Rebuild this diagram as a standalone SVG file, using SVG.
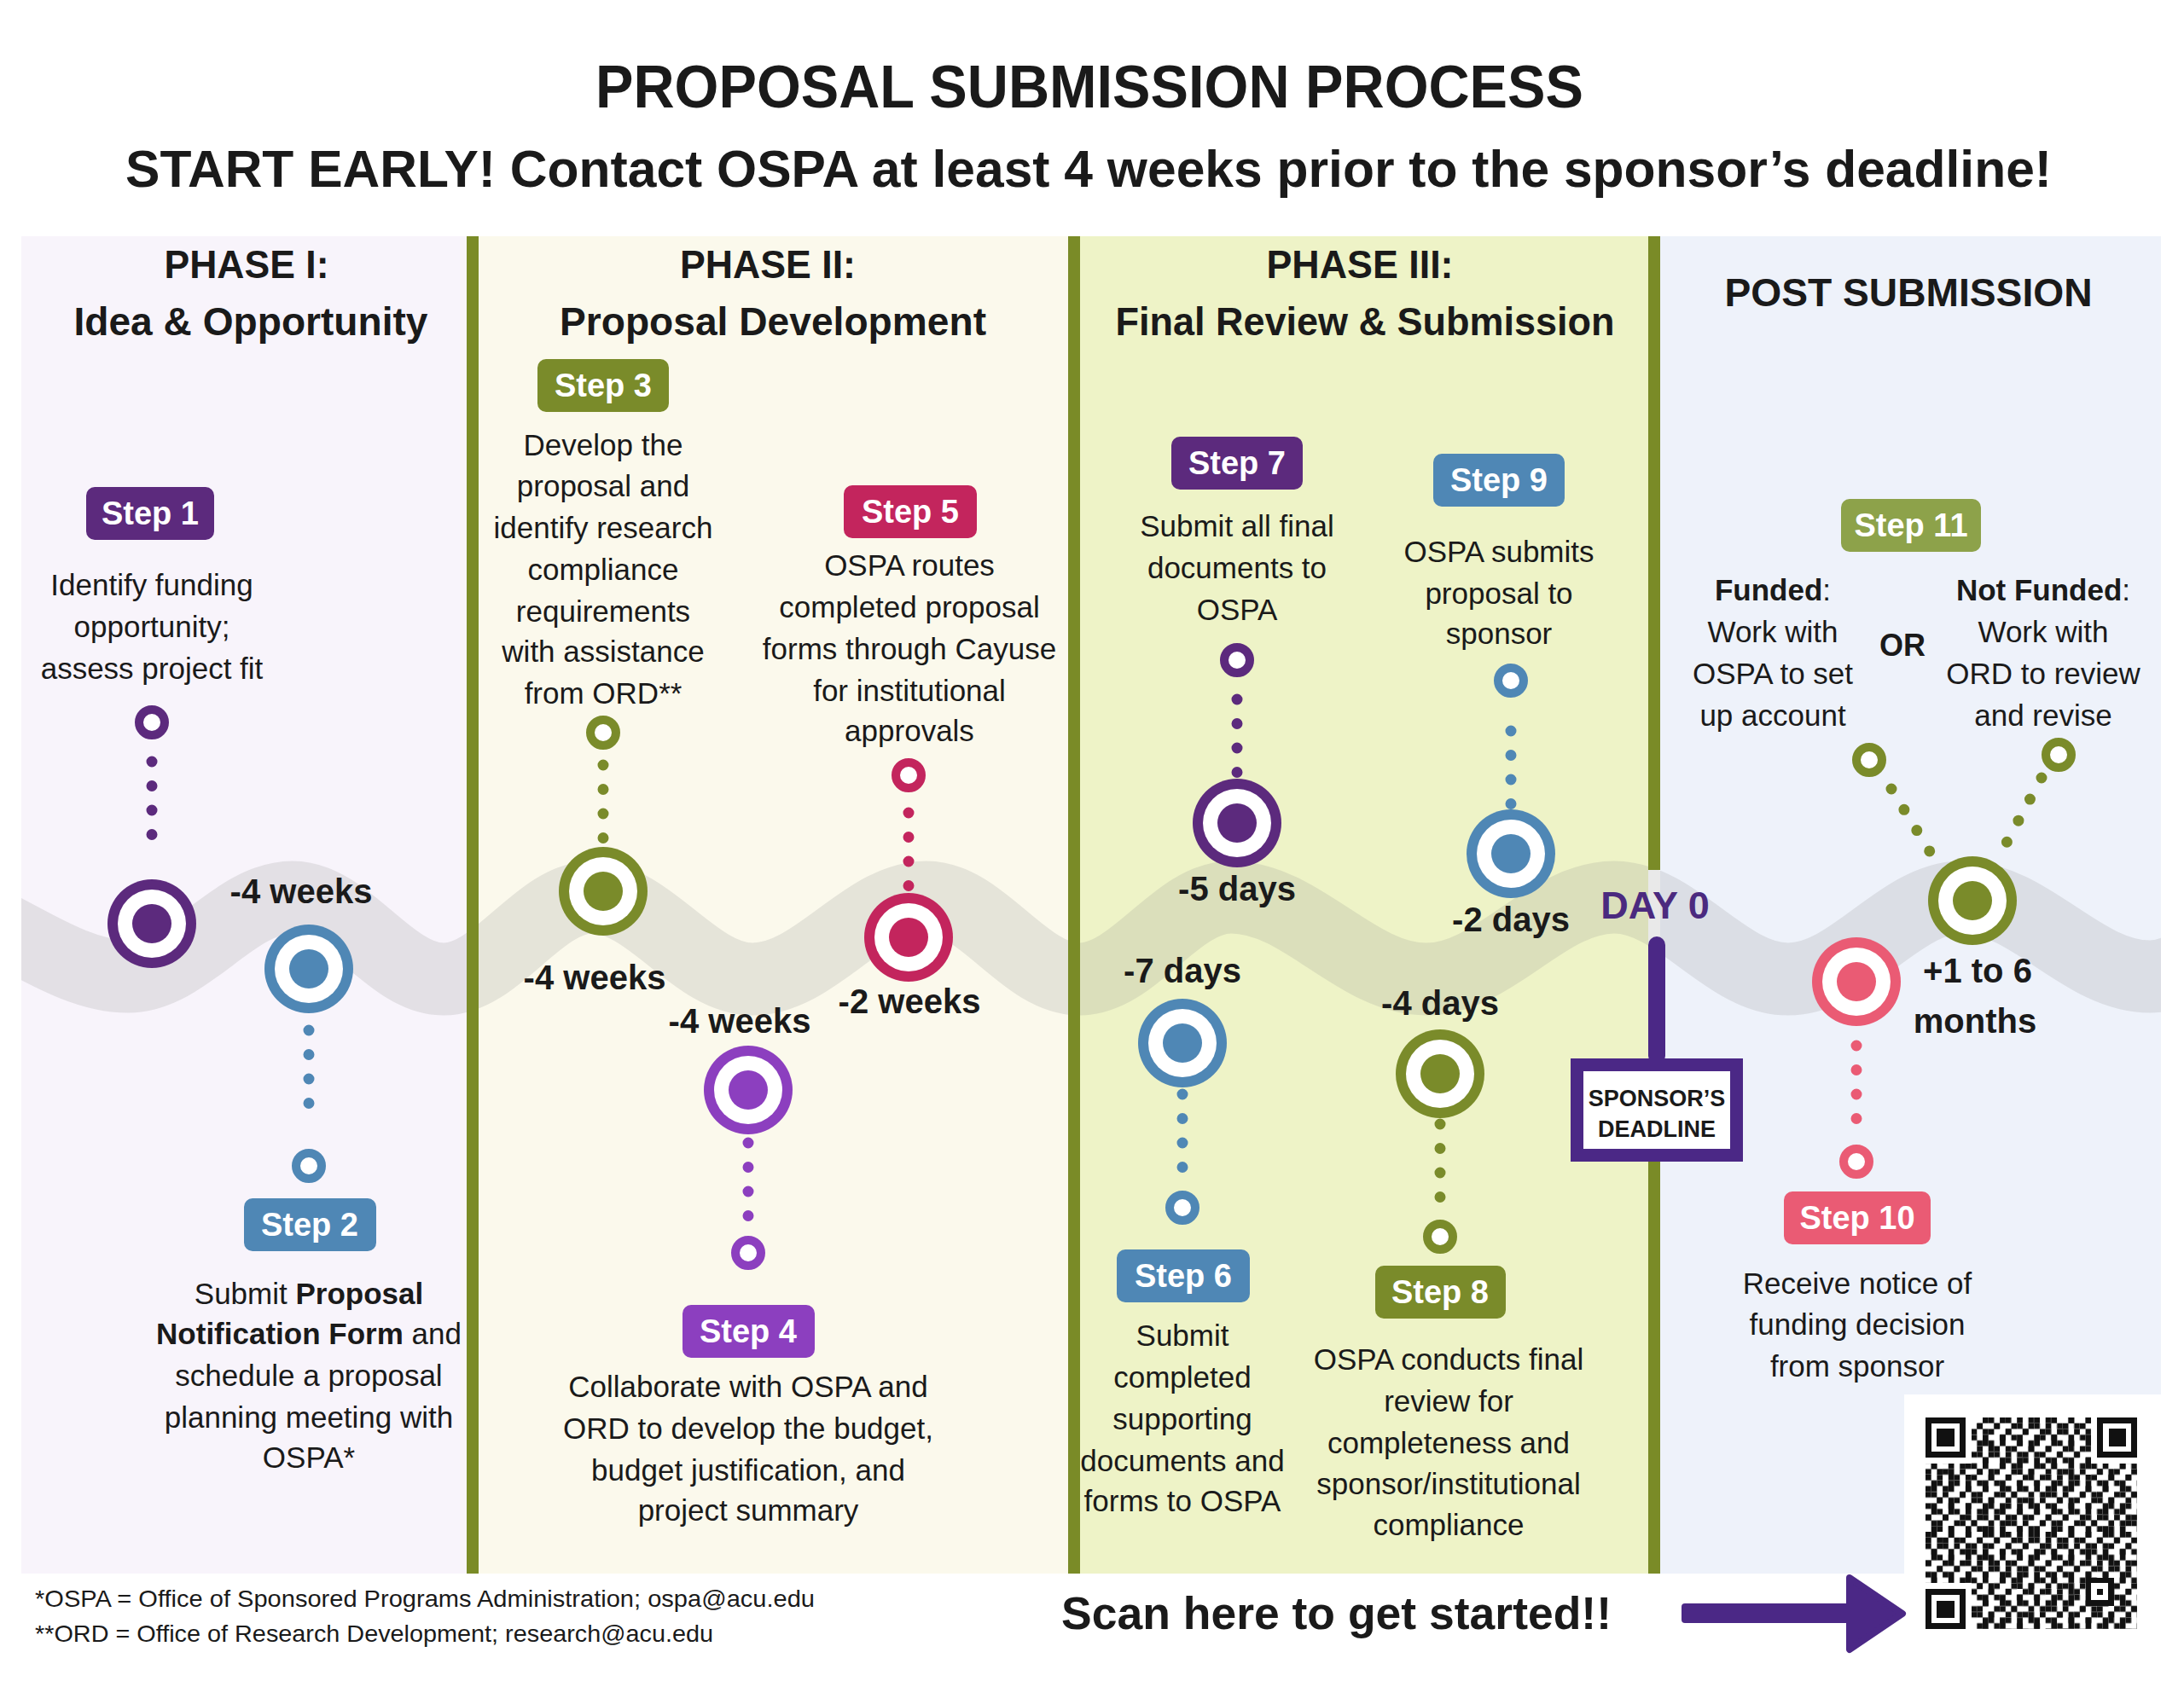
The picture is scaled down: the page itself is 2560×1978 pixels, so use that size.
<svg xmlns="http://www.w3.org/2000/svg" xmlns:xlink="http://www.w3.org/1999/xlink" width="2560" height="1978" viewBox="0 0 2560 1978">
<style>
text{font-family:"Liberation Sans",Arial,sans-serif;fill:#1a1a1a}
.title{font-weight:bold;text-anchor:middle}
.head{font-size:46px;font-weight:bold;text-anchor:middle}
.desc{font-size:35px;text-anchor:middle}
.b{font-weight:bold}
.bt{font-size:38px;font-weight:bold;fill:#fff;text-anchor:middle}
.time{font-size:40px;font-weight:bold;text-anchor:middle}
.foot{font-size:28px}
.dot{fill:none;stroke-width:13;stroke-linecap:round;stroke-dasharray:0 28.5}
</style>
<defs>
<g id="tgt"><circle r="52"/><circle r="40" fill="#fff"/><circle r="23"/></g>
<circle id="ring" r="15" fill="#fff" stroke-width="10"/>
<clipPath id="pclip"><rect x="25" y="277" width="2508" height="1568"/></clipPath>
<pattern id="qa" patternUnits="userSpaceOnUse" x="2257" y="1662" width="46.9" height="33.5"><path d="M0 0h6.7v6.7h-6.7zM26.8 0h6.7v6.7h-6.7zM13.4 6.7h6.7v6.7h-6.7zM33.5 6.7h6.7v6.7h-6.7zM0 13.4h6.7v6.7h-6.7zM20.1 13.4h6.7v6.7h-6.7zM6.7 20.1h6.7v6.7h-6.7zM40.2 20.1h6.7v6.7h-6.7zM13.4 26.8h6.7v6.7h-6.7zM26.8 26.8h6.7v6.7h-6.7z" fill="#111"/></pattern>
<pattern id="qb" patternUnits="userSpaceOnUse" x="2257" y="1662" width="20.1" height="26.8"><path d="M6.7 0h6.7v6.7h-6.7zM0 6.7h6.7v6.7h-6.7zM13.4 13.4h6.7v6.7h-6.7zM6.7 20.1h6.7v6.7h-6.7z" fill="#111"/></pattern>
</defs>
<rect width="2560" height="1978" fill="#fff"/>

<g id="panels">
<rect x="25" y="277" width="522" height="1568" fill="#f8f4fb"/>
<rect x="561" y="277" width="691" height="1568" fill="#fbf9ec"/>
<rect x="1266" y="277" width="666" height="1568" fill="#eef3c7"/>
<path d="M1946 277H2533V1635H2232V1845H1946Z" fill="#eef2fa"/>
</g>

<g id="wave" clip-path="url(#pclip)">
<path d="M-110 1052C-23 1052 63 1145 150 1145C220 1145 273 1052 343 1052C407 1052 456 1148 520 1148C583 1148 631 1052 694 1052C762 1052 814 1148 882 1148C956 1148 1012 1052 1086 1052C1151 1052 1200 1148 1265 1148C1330 1148 1378 1052 1443 1052C1526 1052 1589 1148 1672 1148C1752 1148 1812 1052 1892 1052C1966 1052 2022 1148 2096 1148C2170 1148 2226 1052 2300 1052C2380 1052 2440 1145 2520 1145C2586 1145 2634 1052 2700 1052" fill="none" stroke="#8a8a8a" stroke-opacity="0.19" stroke-width="85"/>
</g>

<g id="bars" fill="#7a8b27">
<rect x="547" y="277" width="14" height="1568"/>
<rect x="1252" y="277" width="14" height="1568"/>
<rect x="1932" y="277" width="14" height="743"/>
<rect x="1932" y="1362" width="14" height="483"/>
</g>

<g id="titles">
<text class="title" x="1277" y="126" font-size="70" textLength="1158" lengthAdjust="spacingAndGlyphs">PROPOSAL SUBMISSION PROCESS</text>
<text class="title" x="1276" y="219" font-size="62" textLength="2258" lengthAdjust="spacingAndGlyphs">START EARLY! Contact OSPA at least 4 weeks prior to the sponsor’s deadline!</text>
<text class="head" x="289" y="326" textLength="193" lengthAdjust="spacingAndGlyphs">PHASE I:</text>
<text class="head" x="294" y="393" textLength="415" lengthAdjust="spacingAndGlyphs">Idea &amp; Opportunity</text>
<text class="head" x="900" y="326" textLength="206" lengthAdjust="spacingAndGlyphs">PHASE II:</text>
<text class="head" x="906" y="393" textLength="500" lengthAdjust="spacingAndGlyphs">Proposal Development</text>
<text class="head" x="1594" y="326" textLength="219" lengthAdjust="spacingAndGlyphs">PHASE III:</text>
<text class="head" x="1600" y="393" textLength="585" lengthAdjust="spacingAndGlyphs">Final Review &amp; Submission</text>
<text class="head" x="2237" y="359" textLength="431" lengthAdjust="spacingAndGlyphs">POST SUBMISSION</text>
</g>

<g id="connectors">
<line class="dot" stroke="#5c2a7d" x1="178" y1="893" x2="178" y2="1007"/>
<line class="dot" stroke="#4f87b5" x1="362" y1="1208" x2="362" y2="1322"/>
<line class="dot" stroke="#7a8b2a" x1="707" y1="897" x2="707" y2="983"/>
<line class="dot" stroke="#8c3fbf" x1="877" y1="1340" x2="877" y2="1426"/>
<line class="dot" stroke="#c3255d" x1="1065" y1="953" x2="1065" y2="1039"/>
<line class="dot" stroke="#4f87b5" x1="1386" y1="1283" x2="1386" y2="1369"/>
<line class="dot" stroke="#5c2a7d" x1="1450" y1="820" x2="1450" y2="906"/>
<line class="dot" stroke="#7a8b2a" x1="1688" y1="1318" x2="1688" y2="1404"/>
<line class="dot" stroke="#4f87b5" x1="1771" y1="857" x2="1771" y2="943"/>
<line class="dot" stroke="#ea5b74" x1="2176" y1="1226" x2="2176" y2="1315"/>
<line class="dot" stroke="#7a8b2a" x1="2217" y1="925" x2="2263" y2="1000"/>
<line class="dot" stroke="#7a8b2a" x1="2393" y1="912" x2="2352" y2="988"/>
</g>

<g id="step1">
<use href="#ring" x="178" y="847" stroke="#5c2a7d"/>
<use href="#tgt" x="178" y="1083" fill="#5c2a7d"/>
<rect x="101" y="571" width="150" height="62" rx="10" fill="#5c2a7d"/>
<text class="bt" x="176" y="615">Step 1</text>
<text class="desc" x="178" y="698">Identify funding</text>
<text class="desc" x="178" y="747">opportunity;</text>
<text class="desc" x="178" y="796">assess project fit</text>
<text class="time" x="353" y="1059">-4 weeks</text>
</g>

<g id="step2">
<use href="#tgt" x="362" y="1136" fill="#4f87b5"/>
<use href="#ring" x="362" y="1367" stroke="#4f87b5"/>
<rect x="286" y="1405" width="155" height="62" rx="10" fill="#4f87b5"/>
<text class="bt" x="363" y="1449">Step 2</text>
<text class="desc" x="362" y="1529">Submit <tspan class="b">Proposal</tspan></text>
<text class="desc" x="362" y="1576"><tspan class="b">Notification Form</tspan> and</text>
<text class="desc" x="362" y="1625">schedule a proposal</text>
<text class="desc" x="362" y="1674">planning meeting with</text>
<text class="desc" x="362" y="1721">OSPA*</text>
</g>

<g id="step3">
<rect x="630" y="421" width="154" height="62" rx="10" fill="#7a8b2a"/>
<text class="bt" x="707" y="465">Step 3</text>
<text class="desc" x="707" y="534">Develop the</text>
<text class="desc" x="707" y="582">proposal and</text>
<text class="desc" x="707" y="631">identify research</text>
<text class="desc" x="707" y="680">compliance</text>
<text class="desc" x="707" y="729">requirements</text>
<text class="desc" x="707" y="776">with assistance</text>
<text class="desc" x="707" y="825">from ORD**</text>
<use href="#ring" x="707" y="859" stroke="#7a8b2a"/>
<use href="#tgt" x="707" y="1045" fill="#7a8b2a"/>
<text class="time" x="697" y="1160">-4 weeks</text>
</g>

<g id="step4">
<text class="time" x="867" y="1211">-4 weeks</text>
<use href="#tgt" x="877" y="1278" fill="#8c3fbf"/>
<use href="#ring" x="877" y="1469" stroke="#8c3fbf"/>
<rect x="800" y="1530" width="155" height="62" rx="10" fill="#8c3fbf"/>
<text class="bt" x="877" y="1574">Step 4</text>
<text class="desc" x="877" y="1638">Collaborate with OSPA and</text>
<text class="desc" x="877" y="1687">ORD to develop the budget,</text>
<text class="desc" x="877" y="1736">budget justification, and</text>
<text class="desc" x="877" y="1783">project summary</text>
</g>

<g id="step5">
<rect x="989" y="569" width="156" height="62" rx="10" fill="#c3255d"/>
<text class="bt" x="1067" y="613">Step 5</text>
<text class="desc" x="1066" y="675">OSPA routes</text>
<text class="desc" x="1066" y="724">completed proposal</text>
<text class="desc" x="1066" y="773">forms through Cayuse</text>
<text class="desc" x="1066" y="822">for institutional</text>
<text class="desc" x="1066" y="869">approvals</text>
<use href="#ring" x="1065" y="909" stroke="#c3255d"/>
<use href="#tgt" x="1065" y="1099" fill="#c3255d"/>
<text class="time" x="1066" y="1188">-2 weeks</text>
</g>

<g id="step6">
<text class="time" x="1386" y="1152">-7 days</text>
<use href="#tgt" x="1386" y="1223" fill="#4f87b5"/>
<use href="#ring" x="1386" y="1416" stroke="#4f87b5"/>
<rect x="1309" y="1465" width="156" height="62" rx="10" fill="#4f87b5"/>
<text class="bt" x="1387" y="1509">Step 6</text>
<text class="desc" x="1386" y="1578">Submit</text>
<text class="desc" x="1386" y="1627">completed</text>
<text class="desc" x="1386" y="1676">supporting</text>
<text class="desc" x="1386" y="1725">documents and</text>
<text class="desc" x="1386" y="1772">forms to OSPA</text>
</g>

<g id="step7">
<rect x="1373" y="512" width="154" height="62" rx="10" fill="#5c2a7d"/>
<text class="bt" x="1450" y="556">Step 7</text>
<text class="desc" x="1450" y="629">Submit all final</text>
<text class="desc" x="1450" y="678">documents to</text>
<text class="desc" x="1450" y="727">OSPA</text>
<use href="#ring" x="1450" y="774" stroke="#5c2a7d"/>
<use href="#tgt" x="1450" y="965" fill="#5c2a7d"/>
<text class="time" x="1450" y="1056">-5 days</text>
</g>

<g id="step8">
<text class="time" x="1688" y="1190">-4 days</text>
<use href="#tgt" x="1688" y="1259" fill="#7a8b2a"/>
<use href="#ring" x="1688" y="1450" stroke="#7a8b2a"/>
<rect x="1612" y="1484" width="153" height="62" rx="10" fill="#7a8b2a"/>
<text class="bt" x="1688" y="1528">Step 8</text>
<text class="desc" x="1698" y="1606">OSPA conducts final</text>
<text class="desc" x="1698" y="1655">review for</text>
<text class="desc" x="1698" y="1704">completeness and</text>
<text class="desc" x="1698" y="1752">sponsor/institutional</text>
<text class="desc" x="1698" y="1800">compliance</text>
</g>

<g id="step9">
<rect x="1680" y="532" width="154" height="62" rx="10" fill="#4f87b5"/>
<text class="bt" x="1757" y="576">Step 9</text>
<text class="desc" x="1757" y="659">OSPA submits</text>
<text class="desc" x="1757" y="708">proposal to</text>
<text class="desc" x="1757" y="755">sponsor</text>
<use href="#ring" x="1771" y="798" stroke="#4f87b5"/>
<use href="#tgt" x="1771" y="1001" fill="#4f87b5"/>
<text class="time" x="1771" y="1092">-2 days</text>
</g>

<g id="deadline">
<text x="1940" y="1077" font-size="45" font-weight="bold" text-anchor="middle" style="fill:#4b2a7f">DAY 0</text>
<rect x="1932" y="1098" width="20" height="150" rx="10" fill="#4b2886"/>
<rect x="1848.5" y="1248.5" width="187" height="106" fill="#fff" stroke="#4b2886" stroke-width="15"/>
<text x="1942" y="1297" font-size="27" font-weight="bold" text-anchor="middle">SPONSOR’S</text>
<text x="1942" y="1333" font-size="27" font-weight="bold" text-anchor="middle">DEADLINE</text>
</g>

<g id="step10">
<use href="#tgt" x="2176" y="1151" fill="#ea5b74"/>
<use href="#ring" x="2176" y="1362" stroke="#ea5b74"/>
<rect x="2091" y="1397" width="172" height="62" rx="10" fill="#ea5b74"/>
<text class="bt" x="2177" y="1441">Step 10</text>
<text class="desc" x="2177" y="1517">Receive notice of</text>
<text class="desc" x="2177" y="1565">funding decision</text>
<text class="desc" x="2177" y="1614">from sponsor</text>
</g>

<g id="step11">
<rect x="2158" y="585" width="164" height="62" rx="10" fill="#8da24a"/>
<text class="bt" x="2240" y="629">Step 11</text>
<text class="desc" x="2078" y="704"><tspan class="b">Funded</tspan>:</text>
<text class="desc" x="2078" y="753">Work with</text>
<text class="desc" x="2078" y="802">OSPA to set</text>
<text class="desc" x="2078" y="851">up account</text>
<text x="2230" y="769" font-size="36" font-weight="bold" text-anchor="middle">OR</text>
<text class="desc" x="2395" y="704"><tspan class="b">Not Funded</tspan>:</text>
<text class="desc" x="2395" y="753">Work with</text>
<text class="desc" x="2395" y="802">ORD to review</text>
<text class="desc" x="2395" y="851">and revise</text>
<use href="#ring" x="2191" y="891" stroke="#7a8b2a"/>
<use href="#ring" x="2413" y="885" stroke="#7a8b2a"/>
<use href="#tgt" x="2312" y="1056" fill="#7a8b2a"/>
<text class="time" x="2318" y="1152">+1 to 6</text>
<text class="time" x="2315" y="1211">months</text>
</g>

<g id="footer">
<text class="foot" x="41" y="1884" textLength="914" lengthAdjust="spacingAndGlyphs">*OSPA = Office of Sponsored Programs Administration; ospa@acu.edu</text>
<text class="foot" x="41" y="1925" textLength="795" lengthAdjust="spacingAndGlyphs">**ORD = Office of Research Development; research@acu.edu</text>
<text x="1244" y="1910" font-size="54" font-weight="bold" textLength="645" lengthAdjust="spacingAndGlyphs">Scan here to get started!!</text>
</g>

<g id="arrow" fill="#4b2886">
<rect x="1971" y="1880" width="205" height="23" rx="4"/>
<path d="M2168 1850L2230 1892L2168 1934Z" stroke="#4b2886" stroke-width="8" stroke-linejoin="round"/>
</g>

<g id="qr" shape-rendering="crispEdges">
<rect x="2257" y="1662" width="248" height="248" fill="url(#qa)"/>
<rect x="2257" y="1662" width="248" height="248" fill="url(#qb)"/>
<g fill="#fff">
<rect x="2257" y="1662" width="53.6" height="53.6"/>
<rect x="2451.4" y="1662" width="53.6" height="53.6"/>
<rect x="2257" y="1856.4" width="53.6" height="53.6"/>
<rect x="2444.6" y="1849.6" width="33.5" height="33.5"/>
</g>
<g fill="#111">
<rect x="2257" y="1662" width="46.9" height="46.9"/>
<rect x="2458.1" y="1662" width="46.9" height="46.9"/>
<rect x="2257" y="1863.1" width="46.9" height="46.9"/>
<rect x="2444.6" y="1849.6" width="33.5" height="33.5"/>
</g>
<g fill="#fff">
<rect x="2263.7" y="1668.7" width="33.5" height="33.5"/>
<rect x="2464.8" y="1668.7" width="33.5" height="33.5"/>
<rect x="2263.7" y="1869.8" width="33.5" height="33.5"/>
<rect x="2451.3" y="1856.3" width="20.1" height="20.1"/>
</g>
<g fill="#111">
<rect x="2270.4" y="1675.4" width="20.1" height="20.1"/>
<rect x="2471.5" y="1675.4" width="20.1" height="20.1"/>
<rect x="2270.4" y="1876.5" width="20.1" height="20.1"/>
<rect x="2458" y="1863" width="6.7" height="6.7"/>
</g>
</g>
</svg>
